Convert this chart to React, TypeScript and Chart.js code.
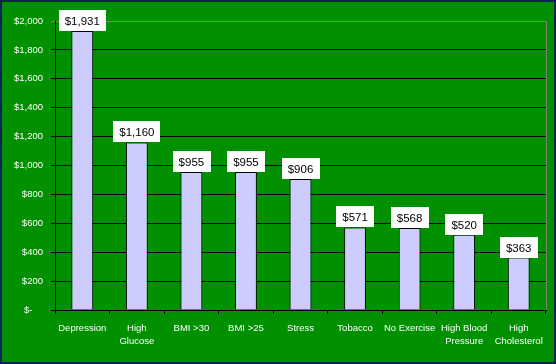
import React, { useEffect, useRef } from "react";
import { Chart, registerables } from "chart.js";

Chart.register(...registerables);

const categories: (string | string[])[] = [
  "Depression",
  ["High", "Glucose"],
  "BMI >30",
  "BMI >25",
  "Stress",
  "Tobacco",
  "No Exercise",
  ["High Blood", "Pressure"],
  ["High", "Cholesterol"],
];
const costs: number[] = [1931, 1160, 955, 955, 906, 571, 568, 520, 363];
const yMin = 0;
const yMax = 2000;
const yStep = 200;

const fmt = (v: number) => "$" + v.toLocaleString("en-US");

const bgPlugin = {
  id: "bgPlugin",
  beforeDraw(chart: any) {
    const { ctx, width, height } = chart;
    ctx.save();
    ctx.fillStyle = "#009000";
    ctx.fillRect(0, 0, width, height);
    ctx.restore();
  },
  afterDraw(chart: any) {
    const { ctx, width, height } = chart;
    ctx.save();
    ctx.strokeStyle = "#0c2450";
    ctx.lineWidth = 2;
    ctx.strokeRect(1, 1, width - 2, height - 2);
    ctx.restore();
  },
  beforeDatasetsDraw(chart: any) {
    const { ctx, chartArea } = chart;
    ctx.save();
    ctx.strokeStyle = "#808080";
    ctx.lineWidth = 1;
    ctx.beginPath();
    ctx.moveTo(Math.round(chartArea.right) + 0.5, chartArea.top);
    ctx.lineTo(Math.round(chartArea.right) + 0.5, chartArea.bottom);
    ctx.stroke();
    ctx.restore();
  },
};

const labelPlugin = {
  id: "labelPlugin",
  afterDatasetsDraw(chart: any) {
    const { ctx } = chart;
    const meta = chart.getDatasetMeta(0);
    ctx.save();
    ctx.font = "11.5px 'Liberation Sans', Arial, sans-serif";
    ctx.textAlign = "center";
    ctx.textBaseline = "middle";
    meta.data.forEach((bar: any, i: number) => {
      const text = fmt(costs[i]);
      const w = ctx.measureText(text).width + 12;
      const h = 21;
      const x = Math.round(bar.x - w / 2);
      const y = Math.round(bar.y - h);
      ctx.fillStyle = "#ffffff";
      ctx.fillRect(x, y, Math.round(w), h);
      ctx.fillStyle = "#000000";
      ctx.fillText(text, bar.x, y + h / 2 + 1);
    });
    ctx.restore();
  },
};

export default function App() {
  const ref = useRef<HTMLCanvasElement | null>(null);

  useEffect(() => {
    if (!ref.current) return;
    const tickFont = { family: "'Liberation Sans', Arial, sans-serif", size: 9.5 };
    const chart = new Chart(ref.current, {
      type: "bar",
      data: {
        labels: categories,
        datasets: [
          {
            data: costs,
            backgroundColor: "#ccccff",
            borderColor: "#000000",
            borderWidth: 1,
            barPercentage: 0.4,
            categoryPercentage: 1,
          },
        ],
      },
      options: {
        responsive: false,
        animation: false,
        devicePixelRatio: 1,
        layout: { padding: { top: 21, right: 10, left: 0, bottom: 0 } },
        plugins: {
          legend: { display: false },
          tooltip: { enabled: false },
          title: { display: false },
        },
        scales: {
          x: {
            grid: {
              offset: true,
              drawOnChartArea: false,
              drawTicks: true,
              tickLength: 4,
              color: "#000000",
            },
            border: { color: "#000000", width: 1 },
            ticks: {
              color: "#ffffff",
              font: { ...tickFont, lineHeight: 1.45 },
              padding: 7,
              maxRotation: 0,
              autoSkip: false,
            },
            afterFit(scale: any) {
              scale.height = 54;
            },
          },
          y: {
            min: yMin,
            max: yMax,
            grid: {
              color: (c: any) => (c.tick && c.tick.value === yMax ? "#808080" : "#000000"),
              tickLength: 4,
              drawTicks: true,
            },
            border: { color: "#000000", width: 1 },
            ticks: {
              stepSize: yStep,
              color: "#ffffff",
              font: tickFont,
              padding: 8,
              callback: (v: any) => (Number(v) === 0 ? "$-    " : fmt(Number(v))),
            },
            afterFit(scale: any) {
              scale.width = 55;
            },
          },
        },
      },
      plugins: [bgPlugin, labelPlugin],
    });
    return () => chart.destroy();
  }, []);

  return (
    <div style={{ position: "absolute", left: 0, top: 0, width: 556, height: 364 }}>
      <canvas ref={ref} width={556} height={364} style={{ display: "block", width: 556, height: 364 }} />
    </div>
  );
}
